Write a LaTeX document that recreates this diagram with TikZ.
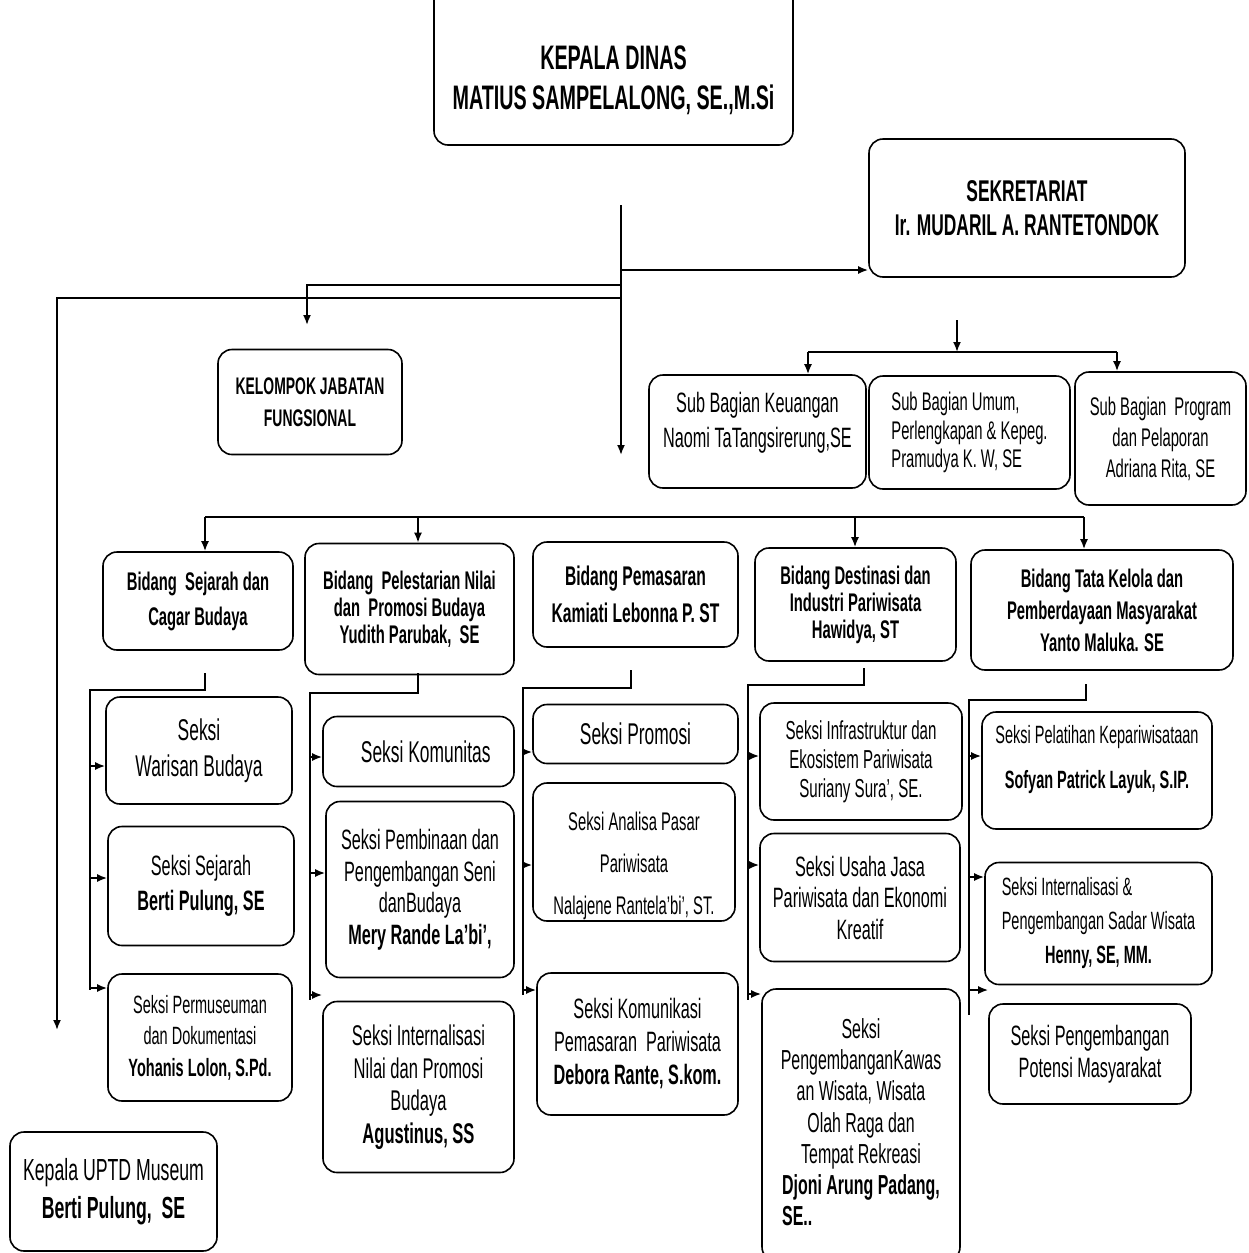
\documentclass[tikz,border=0pt]{standalone}
\usepackage{fontspec}
\setmainfont{Liberation Sans}[FakeStretch=0.58]
\usetikzlibrary{arrows.meta}
\newcommand{\fsz}[2]{\fontsize{#1}{#2}\selectfont}
\tikzset{
  box/.style={draw, rounded corners=14pt, line width=1.6pt, align=center, inner sep=2pt},
  txt/.style={align=center, inner sep=0pt},
  conn/.style={line width=1.8pt},
  arr/.style={conn, -{Latex[length=10pt,width=8pt]}}
}

\begin{document}
\begin{tikzpicture}[x=1pt,y=-1pt]
  \useasboundingbox (0,0) rectangle (1248,1253);

  % top level
  \node[box, minimum width=359pt, minimum height=170pt] (kd) at (613.5,60) {};
  \node[txt, font=\bfseries\fsz{34}{40}] (kdt) at (613.5,80)
    {KEPALA DINAS\\MATIUS SAMPELALONG, SE.,M.Si};
  \node[box, minimum width=316pt, minimum height=138pt, font=\bfseries\fsz{30}{34}] (sek) at (1027,208)
    {SEKRETARIAT\\Ir. MUDARIL A. RANTETONDOK};
  \node[box, minimum width=184pt, minimum height=105pt, font=\bfseries\fsz{24}{32}] (kjf) at (310,402)
    {KELOMPOK JABATAN\\FUNGSIONAL};

  % sub bagian
  \node[box, minimum width=217pt, minimum height=113pt] (sbk) at (757.5,431.5) {};
  \node[txt, font=\fsz{28}{35}] (sbkt) at (757.5,422.5)
    {Sub Bagian Keuangan\\Naomi TaTangsirerung,SE};
  \node[box, minimum width=201pt, minimum height=113pt, align=left, font=\fsz{25.5}{28.5}] (sbu) at (969.5,432.5)
    {Sub Bagian Umum,\\Perlengkapan \& Kepeg.\\Pramudya K. W, SE};
  \node[box, minimum width=171pt, minimum height=133pt, font=\fsz{25.5}{31}] (sbp) at (1160.5,438.5)
    {Sub Bagian\ \ Program\\dan Pelaporan\\Adriana Rita, SE};

  % bidang
  \node[box, minimum width=190pt, minimum height=98pt, font=\bfseries\fsz{25.5}{35}] (bsj) at (198,601)
    {Bidang\ \ Sejarah dan\\Cagar Budaya};
  \node[box, minimum width=209pt, minimum height=131pt, font=\bfseries\fsz{25.5}{27}] (bpl) at (409.5,609)
    {Bidang\ \ Pelestarian Nilai\\dan\ \ Promosi Budaya\\Yudith Parubak,\ \ SE};
  \node[box, minimum width=205pt, minimum height=105pt, font=\bfseries\fsz{27}{37}] (bpm) at (635.5,594.5)
    {Bidang Pemasaran\\Kamiati Lebonna P. ST};
  \node[box, minimum width=201pt, minimum height=113pt, font=\bfseries\fsz{25.5}{27}] (bde) at (855.5,604.5)
    {Bidang Destinasi dan\\Industri Pariwisata\\Hawidya, ST};
  \node[box, minimum width=262pt, minimum height=120pt, font=\bfseries\fsz{25.5}{32}] (btk) at (1102,610)
    {Bidang Tata Kelola dan\\Pemberdayaan Masyarakat\\Yanto Maluka. SE};

  % seksi, column 1
  \node[box, minimum width=186pt, minimum height=107pt, font=\fsz{30}{36}] (sw) at (199,750.5)
    {Seksi\\Warisan Budaya};
  \node[box, minimum width=186pt, minimum height=119pt, font=\fsz{28}{35}] (ss) at (201,886)
    {Seksi Sejarah\\\textbf{Berti Pulung, SE}};
  \node[box, minimum width=184pt, minimum height=127pt, font=\fsz{25}{31.5}] (sp) at (200,1037.5)
    {Seksi Permuseuman\\dan Dokumentasi\\\textbf{Yohanis Lolon, S.Pd.}};

  % seksi, column 2
  \node[box, minimum width=191pt, minimum height=70pt, font=\fsz{30}{36}] (skm) at (418.5,751.5)
    {\ \ \ Seksi Komunitas};
  \node[box, minimum width=188pt, minimum height=176pt, font=\fsz{28}{31.5}] (spb) at (420,889.5)
    {Seksi Pembinaan dan\\Pengembangan Seni\\danBudaya\\\textbf{Mery Rande La'bi',}};
  \node[box, minimum width=191pt, minimum height=171pt, font=\fsz{28.5}{32.5}] (sin) at (418.5,1087)
    {Seksi Internalisasi\\Nilai dan Promosi\\Budaya\\\textbf{Agustinus, SS}};

  % seksi, column 3
  \node[box, minimum width=205pt, minimum height=59pt, font=\fsz{30}{36}] (spr) at (635.5,734)
    {Seksi Promosi};
  \node[box, minimum width=202pt, minimum height=138pt] (sap) at (634,852) {};
  \node[txt, font=\fsz{25.5}{42}] (sapt) at (634,866)
    {Seksi Analisa Pasar\\Pariwisata\\Nalajene Rantela'bi', ST.};
  \node[box, minimum width=201pt, minimum height=142pt, font=\fsz{28}{33}] (skp) at (637.5,1044)
    {Seksi Komunikasi\\Pemasaran\ \ Pariwisata\\\textbf{Debora Rante, S.kom.}};

  % seksi, column 4
  \node[box, minimum width=202pt, minimum height=117pt, font=\fsz{26}{29}] (sif) at (861,761.5)
    {Seksi Infrastruktur dan\\Ekosistem Pariwisata\\Suriany Sura', SE.};
  \node[box, minimum width=200pt, minimum height=128pt, font=\fsz{28}{31.5}] (suj) at (860,897.5)
    {Seksi Usaha Jasa\\Pariwisata dan Ekonomi\\Kreatif};
  \node[box, minimum width=198pt, minimum height=272pt, font=\fsz{27.5}{31.3}] (skw) at (861,1125)
    {Seksi\\PengembanganKawas\\an Wisata, Wisata\\Olah Raga dan\\Tempat Rekreasi\\
     \textbf{Djoni Arung Padang,}\\\rlap{\textbf{SE..}}\phantom{\textbf{Djoni Arung Padang,}}};

  % seksi, column 5
  \node[box, minimum width=230pt, minimum height=117pt] (spl) at (1097,770.5) {};
  \node[txt, font=\fsz{25}{45}] (splt) at (1097,759.5)
    {Seksi Pelatihan Kepariwisataan\\\textbf{Sofyan Patrick Layuk, S.IP.}};
  \node[box, minimum width=227pt, minimum height=122pt, font=\fsz{25}{34}] (sis) at (1098.5,923.5)
    {\rlap{Seksi Internalisasi \&}\phantom{Pengembangan Sadar Wisata}\\Pengembangan Sadar Wisata\\\textbf{Henny, SE, MM.}};
  \node[box, minimum width=202pt, minimum height=100pt, font=\fsz{28}{32}] (spm) at (1090,1054)
    {Seksi Pengembangan\\Potensi Masyarakat};

  % uptd
  \node[box, minimum width=207pt, minimum height=119pt, font=\fsz{30.5}{38}] (upt) at (113.5,1191.5)
    {Kepala UPTD Museum\\\textbf{Berti Pulung,\ \ SE}};

  % lines from kepala dinas
  \coordinate (t0) at (621,205);
  \coordinate (t1) at (621,455);
  \coordinate (j1) at (621,270);
  \coordinate (j2) at (621,285);
  \coordinate (j3) at (621,298);
  \coordinate (kjfin) at (307,325);
  \coordinate (uptin) at (57,1030);
  \draw[arr] (t0) -- (t1);
  \draw[arr] (j1) -- (j1 -| sek.west);
  \draw[arr] (j2) -| (kjfin);
  \draw[arr] (j3) -| (uptin);

  % lines from sekretariat
  \coordinate (s0) at (957,320);
  \coordinate (s1) at (957,352);
  \coordinate (sL) at (808,352);
  \coordinate (sR) at (1117,352);
  \draw[arr] (s0) -- (s1);
  \draw[conn] (sL) -- (sR);
  \draw[arr] (sL) -- (sL |- sbk.north);
  \draw[arr] (sR) -- (sR |- sbp.north);

  % bidang bus
  \coordinate (bL) at (205,517);
  \coordinate (bR) at (1084,517);
  \draw[conn] (bL) -- (bR);
  \foreach \n/\x in {bsj/205,bpl/418,bde/855,btk/1084}
    \draw[arr] (bL -| \x,0) -- (\n.north -| \x,0);

  % seksi brackets
  \coordinate (k1a) at (205,673);  \coordinate (k1b) at (90,690);  \coordinate (k1c) at (90,990);
  \coordinate (k2a) at (418,673);  \coordinate (k2b) at (310,693); \coordinate (k2c) at (310,1000);
  \coordinate (k3a) at (631,670);  \coordinate (k3b) at (523,688); \coordinate (k3c) at (523,995);
  \coordinate (k4a) at (864,668);  \coordinate (k4b) at (748,685); \coordinate (k4c) at (748,1000);
  \coordinate (k5a) at (1086,684); \coordinate (k5b) at (969,700); \coordinate (k5c) at (969,1015);
  \foreach \k in {1,...,5}
    \draw[conn] (k\k a) |- (k\k b) -- (k\k c);

  \foreach \n/\y in {sw/766,ss/878,sp/988}
    \draw[arr] (k1b |- 0,\y) -- (\n.west |- 0,\y);
  \foreach \n/\y in {skm/757,spb/873,sin/995}
    \draw[arr] (k2b |- 0,\y) -- (\n.west |- 0,\y);
  \foreach \n/\y in {spr/752,sap/865,skp/990}
    \draw[arr] (k3b |- 0,\y) -- (\n.west |- 0,\y);
  \foreach \n/\y in {sif/756,suj/865,skw/994}
    \draw[arr] (k4b |- 0,\y) -- (\n.west |- 0,\y);
  \foreach \n/\y in {spl/756,sis/877,spm/990}
    \draw[arr] (k5b |- 0,\y) -- (\n.west |- 0,\y);
\end{tikzpicture}
\end{document}
